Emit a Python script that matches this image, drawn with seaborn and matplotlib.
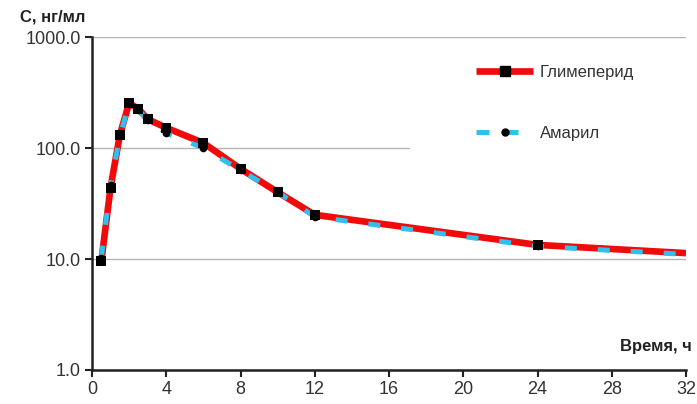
import numpy as np
import pandas as pd
import matplotlib
matplotlib.use("Agg")
import matplotlib.pyplot as plt
from matplotlib.lines import Line2D
from matplotlib.patches import Rectangle
from matplotlib.ticker import FixedLocator, FuncFormatter, NullLocator
import seaborn as sns

# ---- data ----
time_h = [0.5, 1, 1.5, 2, 2.5, 3, 4, 6, 8, 10, 12, 24, 32]
glimepiride = [9.5, 44, 131, 254, 225, 182, 152, 111, 65, 40, 25, 13.4, 11.3]
amaryl = [10.3, 46, 128, 250, 220, 180, 136, 100, 63, 40, 24, 13.0, 11.0]
series_names = ["Глимеперид", "Амарил"]
x_ticks = [0, 4, 8, 12, 16, 20, 24, 28, 32]
y_ticks = [1, 10, 100, 1000]

sns.set_theme(style="white")
plt.rcParams["font.family"] = ["Liberation Sans", "DejaVu Sans"]

fig = plt.figure(figsize=(6.97, 4.04), dpi=100)
ax = fig.add_axes([92 / 697, 1 - 370 / 404, 594 / 697, 333 / 404])

df_g = pd.DataFrame({"t": time_h, "c": glimepiride})
df_a = pd.DataFrame({"t": time_h, "c": amaryl})

red = "#f00a0a"
blue = "#30c0ee"
dash = (0, (2.4, 4.2))

sns.lineplot(data=df_g, x="t", y="c", ax=ax, color=red, lw=4.8, zorder=2,
             solid_capstyle="butt")
sns.lineplot(data=df_a, x="t", y="c", ax=ax, color=blue, lw=3.6, zorder=3,
             dashes=False, linestyle=dash)
sns.scatterplot(data=df_a.iloc[:-1], x="t", y="c", ax=ax, color="black",
                marker="o", s=30, linewidth=0, zorder=4)
sns.scatterplot(data=df_g.iloc[:-1], x="t", y="c", ax=ax, color="black",
                marker="s", s=60, linewidth=0, zorder=5)

ax.set_yscale("log")
ax.set_ylim(1, 1000)
ax.set_xlim(0, 32)
ax.yaxis.set_major_locator(FixedLocator(y_ticks))
ax.yaxis.set_minor_locator(NullLocator())
ax.yaxis.set_major_formatter(FuncFormatter(lambda v, p: f"{v:.1f}"))
ax.set_xticks(x_ticks)
ax.set_xticklabels([str(v) for v in x_ticks])

ax.set_xlabel("")
ax.set_ylabel("")
ax.set_axisbelow(True)
ax.grid(axis="y", color="#b4b4b4", lw=1.0, zorder=0.5)
ax.grid(axis="x", visible=False)

for s in ["top", "right"]:
    ax.spines[s].set_visible(False)
for s in ["left", "bottom"]:
    ax.spines[s].set_color("#222222")
    ax.spines[s].set_linewidth(1.8)

ax.tick_params(axis="both", direction="out", length=5, width=1.5,
               colors="#222222", labelsize=13, pad=3,
               labelcolor="#333333")
ax.tick_params(axis="y", left=True)
ax.tick_params(axis="x", bottom=True)

# white backdrop behind the legend
ax.add_patch(Rectangle(((410 - 92) / 594, (370 - 170) / 333),
                       1.05 - (410 - 92) / 594, (170 - 50) / 333,
                       transform=ax.transAxes, facecolor="white",
                       edgecolor="none", zorder=1, clip_on=False))

handles = [
    Line2D([], [], color=red, lw=4.8, marker="s", markersize=7,
           markerfacecolor="black", markeredgecolor="black",
           solid_capstyle="butt"),
    Line2D([], [], color=blue, lw=3.6, linestyle=(0, (2.6, 3.2)), marker="o",
           markersize=5, markerfacecolor="black", markeredgecolor="black"),
]
leg = ax.legend(handles, series_names, loc="upper left",
                bbox_to_anchor=(468 / 697, 1 - 57 / 404),
                bbox_transform=fig.transFigure, frameon=False,
                fontsize=12, handlelength=3.4, handletextpad=0.4,
                labelspacing=2.75, borderpad=0)
for t in leg.get_texts():
    t.set_color("#333333")

fig.text(20 / 697, 1 - 17 / 404, "С, нг/мл", fontsize=12, fontweight="bold",
         color="#222222", ha="left", va="center")
fig.text(692 / 697, 1 - 346 / 404, "Время, ч", fontsize=12, fontweight="bold",
         color="#222222", ha="right", va="center")

fig.savefig("out.png", dpi=100)
